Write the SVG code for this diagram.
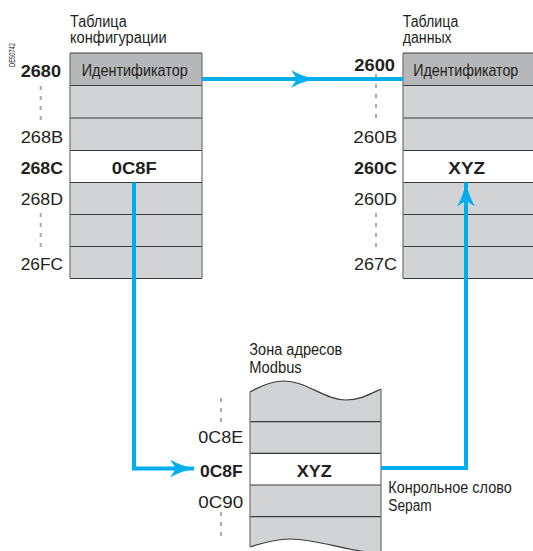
<svg xmlns="http://www.w3.org/2000/svg" width="533" height="551" viewBox="0 0 533 551">
<style>
text{font-family:"Liberation Sans",Arial,sans-serif;fill:#231f20}
.t{font-size:16px}
.c{font-size:17px}
.n{font-size:17px}
.b{font-weight:bold}
.row{fill:#d1d3d4}
.hdr{fill:#b5b7b9}
.wh{fill:#ffffff}
.sep{stroke:#3a3a3a;stroke-width:1.2;fill:none}
.edge{stroke:#7a7a7a;stroke-width:1.3;fill:none}
.dash{stroke:#a7a9ac;stroke-width:2;stroke-dasharray:4 6;fill:none}
.wire{stroke:#00aeef;stroke-width:4;fill:none}
</style>
<defs>
<marker id="ah" markerUnits="userSpaceOnUse" viewBox="0 0 24 18" markerWidth="24" markerHeight="18" refX="24" refY="9" orient="auto">
<path d="M0,0 Q10,6 24,9 Q10,12 0,18 L6,9 Z" fill="#00aeef"/>
</marker>
</defs>

<text transform="translate(15,67) rotate(-90)" style="font-size:8.5px" textLength="24" lengthAdjust="spacingAndGlyphs">DE50742</text>

<g id="config-table">
<text class="t" x="70" y="26.7" textLength="56.7" lengthAdjust="spacingAndGlyphs">Таблица</text>
<text class="t" x="70" y="43.3" textLength="96.7" lengthAdjust="spacingAndGlyphs">конфигурации</text>
<rect class="hdr" x="70" y="53" width="132" height="32.5"/>
<rect class="row" x="70" y="85.5" width="132" height="97"/>
<rect class="wh" x="70" y="150.5" width="132" height="32"/>
<rect class="row" x="70" y="182.5" width="132" height="96"/>
<path class="sep" d="M70,53H202M70,85.5H202M70,118H202M70,150.5H202M70,182.5H202M70,214.5H202M70,246.5H202M70,278.5H202"/>
<path class="edge" d="M70,53V278.5M202,53V278.5"/>
<text class="c" x="81.7" y="76" textLength="106" lengthAdjust="spacingAndGlyphs">Идентификатор</text>
<text class="n b" x="111.7" y="174" textLength="45" lengthAdjust="spacingAndGlyphs">0C8F</text>
<text class="n b" x="20.7" y="76.7" textLength="40.3" lengthAdjust="spacingAndGlyphs">2680</text>
<text class="n" x="20.7" y="142.7" textLength="42.6" lengthAdjust="spacingAndGlyphs">268B</text>
<text class="n b" x="20.7" y="174" textLength="42.3" lengthAdjust="spacingAndGlyphs">268C</text>
<text class="n" x="20.7" y="205" textLength="42.3" lengthAdjust="spacingAndGlyphs">268D</text>
<text class="n" x="20.7" y="269.5" textLength="42.3" lengthAdjust="spacingAndGlyphs">26FC</text>
<path class="dash" d="M40.7,86V122M40.7,213V250"/>
</g>

<g id="data-table">
<text class="t" x="402.7" y="26.7" textLength="55.6" lengthAdjust="spacingAndGlyphs">Таблица</text>
<text class="t" x="402.7" y="43.3" textLength="49" lengthAdjust="spacingAndGlyphs">данных</text>
<rect class="hdr" x="403" y="53" width="130" height="32.5"/>
<rect class="row" x="403" y="85.5" width="130" height="97"/>
<rect class="wh" x="403" y="150.5" width="130" height="32"/>
<rect class="row" x="403" y="182.5" width="130" height="96"/>
<path class="sep" d="M403,53H533M403,85.5H533M403,118H533M403,150.5H533M403,182.5H533M403,214.5H533M403,246.5H533M403,278.5H533"/>
<path class="edge" d="M403,53V278.5"/>
<text class="c" x="413.3" y="76" textLength="105" lengthAdjust="spacingAndGlyphs">Идентификатор</text>
<text class="n b" x="448.3" y="174" textLength="36.7" lengthAdjust="spacingAndGlyphs">XYZ</text>
<path class="dash" d="M376,74V122M376,213V250"/>
<text class="n b" x="354.3" y="70.7" textLength="40.7" lengthAdjust="spacingAndGlyphs">2600</text>
<text class="n" x="353.3" y="142.7" textLength="44" lengthAdjust="spacingAndGlyphs">260B</text>
<text class="n b" x="354" y="174" textLength="43" lengthAdjust="spacingAndGlyphs">260C</text>
<text class="n" x="354" y="205" textLength="43" lengthAdjust="spacingAndGlyphs">260D</text>
<text class="n" x="354" y="270" textLength="43" lengthAdjust="spacingAndGlyphs">267C</text>
</g>

<g id="modbus-zone">
<text class="t" x="249.3" y="355" textLength="93" lengthAdjust="spacingAndGlyphs">Зона адресов</text>
<text class="t" x="249.3" y="373.3" textLength="52.4" lengthAdjust="spacingAndGlyphs">Modbus</text>
<path class="row" d="M250,392 C262,385 272,381 284,381 C306,381 325,400 346,400 C360,400 370,394 381,389 V553 C350,553 320,539 290,539 C278,539 265,542 250,547 Z"/>
<rect class="wh" x="250" y="453.3" width="131" height="31.7"/>
<path class="sep" d="M250,421.7H381M250,453.3H381M250,485H381M250,516.7H381"/>
<path class="sep" d="M250,392 C262,385 272,381 284,381 C306,381 325,400 346,400 C360,400 370,394 381,389"/>
<path class="sep" d="M250,547 C265,542 278,539 290,539 C320,539 350,553 381,553"/>
<path class="edge" d="M250,392V547M381,389V553"/>
<text class="n b" x="296.7" y="476.7" textLength="35" lengthAdjust="spacingAndGlyphs">XYZ</text>
<path class="dash" d="M221,398V427M221,512V539"/>
<text class="n" x="198.3" y="442.7" textLength="45" lengthAdjust="spacingAndGlyphs">0C8E</text>
<text class="n b" x="200" y="476.7" textLength="42.7" lengthAdjust="spacingAndGlyphs">0C8F</text>
<text class="n" x="198.3" y="508.3" textLength="45" lengthAdjust="spacingAndGlyphs">0C90</text>
<text class="t" x="388.3" y="493.3" textLength="123.4" lengthAdjust="spacingAndGlyphs">Конрольное слово</text>
<text class="t" x="388.3" y="510.5" textLength="43.4" lengthAdjust="spacingAndGlyphs">Sepam</text>
</g>

<g id="connectors">
<path class="wire" d="M202,79 L315,79 L403,79" marker-mid="url(#ah)"/>
<path class="wire" d="M134,182.5 V468.5 H194" marker-end="url(#ah)"/>
<path class="wire" d="M381,468 H466 V182.5" marker-end="url(#ah)"/>
</g>
</svg>
